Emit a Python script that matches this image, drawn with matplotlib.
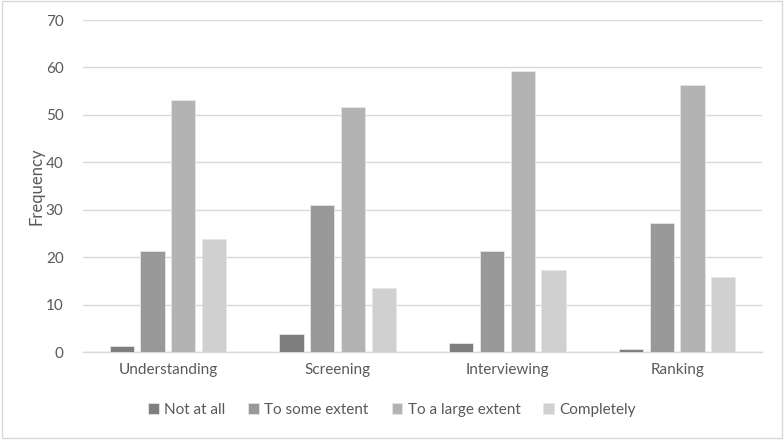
import matplotlib
matplotlib.use("Agg")
import matplotlib.pyplot as plt
from matplotlib.patches import Rectangle
import numpy as np

categories = ["Understanding", "Screening", "Interviewing", "Ranking"]
series_names = ["Not at all", "To some extent", "To a large extent", "Completely"]
not_at_all = [1.3, 3.8, 2.0, 0.6]
some_extent = [21.3, 30.9, 21.4, 27.1]
large_extent = [53.2, 51.6, 59.2, 56.3]
completely = [23.9, 13.5, 17.2, 15.8]
yticks = [0, 10, 20, 30, 40, 50, 60, 70]

colors = ["#7f7f7f", "#999999", "#b3b3b3", "#d0d0d0"]
series = [not_at_all, some_extent, large_extent, completely]

plt.rcParams['font.family'] = ['Lato', 'DejaVu Sans']
fig = plt.figure(figsize=(7.84, 4.40), dpi=100)
ax = fig.add_axes([83/784, 1-352/440, (762-83)/784, (352-20)/440])

x = np.arange(len(categories))
pitch = 0.181
width = 0.142
for i, (vals, c, name) in enumerate(zip(series, colors, series_names)):
    ax.bar(x + (i - 1.5) * pitch, vals, width, color=c, label=name,
           edgecolor="#e6e6e6", linewidth=0.6, zorder=3)

ax.set_xlim(-0.5, len(categories) - 0.5)
ax.set_ylim(0, 70)
ax.set_yticks(yticks)
ax.set_xticks(x)
ax.set_xticklabels(categories)
ax.yaxis.grid(True, color="#d9d9d9", linewidth=1, zorder=0)
ax.set_axisbelow(True)
for s in ["top", "right", "left"]:
    ax.spines[s].set_visible(False)
ax.spines["bottom"].set_color("#d9d9d9")
ax.spines["bottom"].set_linewidth(1)
ax.tick_params(axis="both", length=0, colors="#595959", labelsize=11)
ax.tick_params(axis="y", pad=14)
ax.tick_params(axis="x", pad=8)
ax.set_ylabel("Frequency", color="#595959", fontsize=12, labelpad=1)

leg = fig.legend(loc="center", bbox_to_anchor=(0.5, 1-410/440), ncol=4, frameon=False,
                 fontsize=11, handlelength=0.7, handleheight=0.7, handletextpad=0.35,
                 columnspacing=1.5, labelcolor="#595959")

fig.patches.append(Rectangle((1.5/784, 2.5/440), 780/784, 436/440, transform=fig.transFigure,
                             fill=False, edgecolor="#d9d9d9", linewidth=1))

fig.savefig("out.png", dpi=100)
